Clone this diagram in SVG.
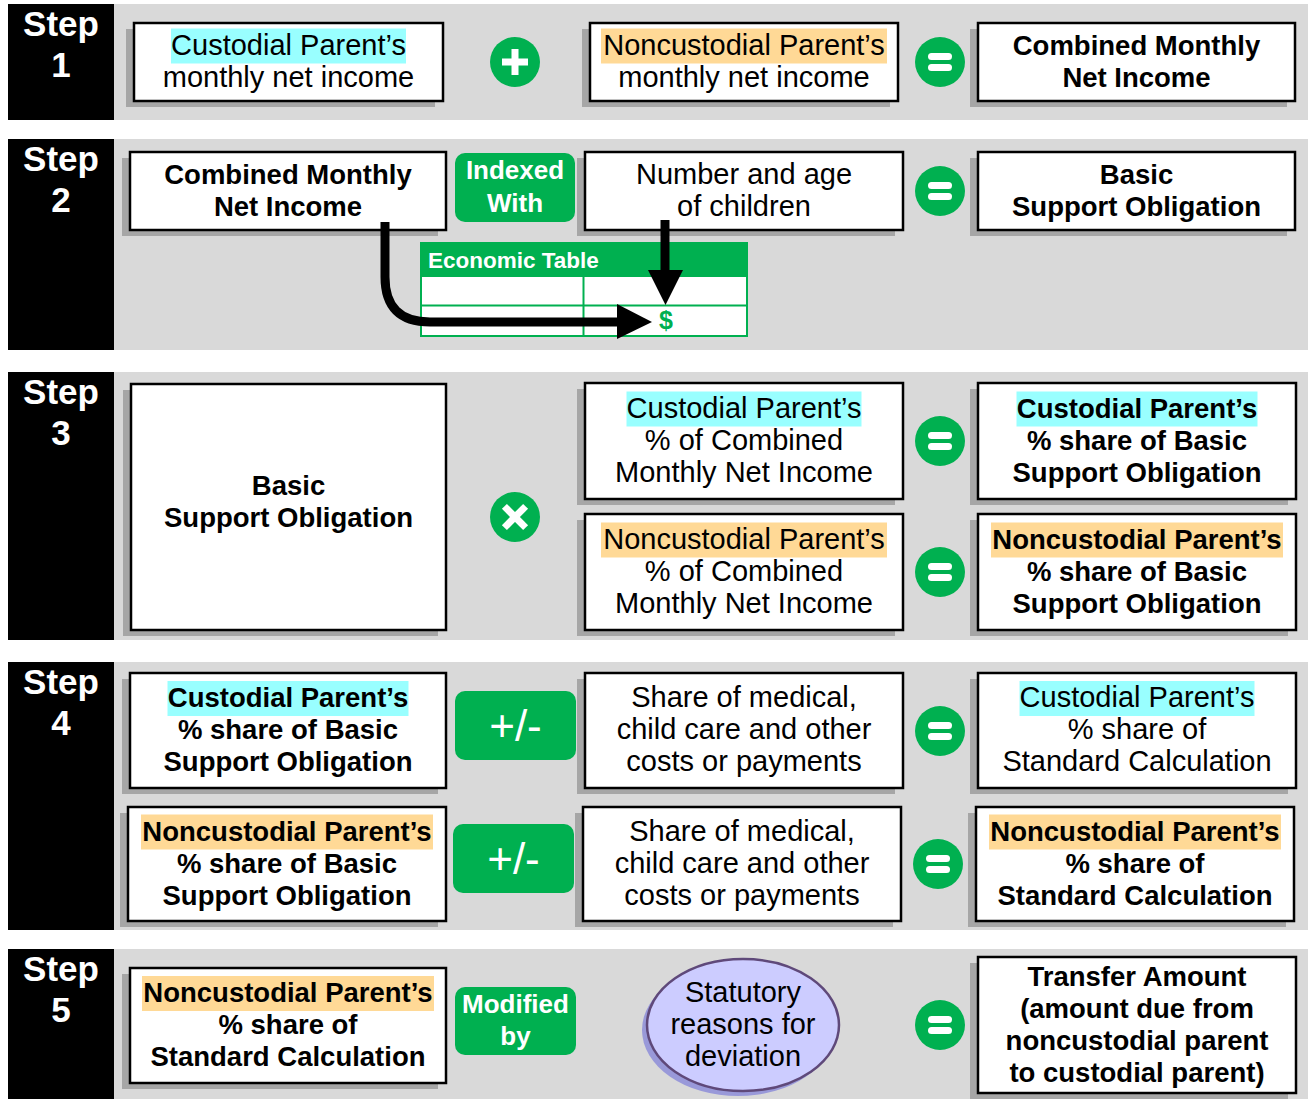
<svg xmlns="http://www.w3.org/2000/svg" xmlns:xlink="http://www.w3.org/1999/xlink" width="1308" height="1099" viewBox="0 0 1308 1099">
<style>
.band{fill:#d9d9d9}
.stepbg{fill:#000}
.steptxt{font-family:"Liberation Sans",Arial,sans-serif;font-weight:bold;font-size:35px;fill:#fff;text-anchor:middle}
.sh{fill:#a6a6a6}
.box{fill:#fff;stroke:#000;stroke-width:2.5}
.t{font-family:"Liberation Sans",Arial,sans-serif;font-size:29px;fill:#000;text-anchor:middle}
.b{font-weight:bold;font-size:27.5px}
.hc{fill:#99ffff}
.ho{fill:#ffd996}
.g{fill:#00b050}
.gt{font-family:"Liberation Sans",Arial,sans-serif;font-weight:bold;font-size:26px;fill:#fff;text-anchor:middle}
.pm{font-family:"Liberation Sans",Arial,sans-serif;font-size:44px;fill:#fff;text-anchor:middle}
.w{fill:#fff}
.arrow{fill:none;stroke:#000;stroke-width:9}
.head{fill:#000}
.tbl{fill:#fff;stroke:#00b050;stroke-width:2}
</style>
<defs>
<g id="eqsym"><circle r="25" class="g"/><rect x="-12" y="-9" width="24" height="7" rx="3.5" class="w"/><rect x="-12" y="2" width="24" height="7" rx="3.5" class="w"/></g>
<g id="plussym"><circle r="25" class="g"/><rect x="-13" y="-3.5" width="26" height="7" class="w"/><rect x="-3.5" y="-13" width="7" height="26" class="w"/></g>
<g id="timessym"><circle r="25" class="g"/><rect x="-15" y="-3.5" width="30" height="7" class="w" transform="rotate(45)"/><rect x="-15" y="-3.5" width="30" height="7" class="w" transform="rotate(-45)"/></g>
</defs>

<g id="bands">
<rect class="band" x="114" y="4" width="1194" height="116"/>
<rect class="stepbg" x="8" y="4" width="106" height="116"/>
<rect class="band" x="114" y="139" width="1194" height="211"/>
<rect class="stepbg" x="8" y="139" width="106" height="211"/>
<rect class="band" x="114" y="372" width="1194" height="268"/>
<rect class="stepbg" x="8" y="372" width="106" height="268"/>
<rect class="band" x="114" y="662" width="1194" height="268"/>
<rect class="stepbg" x="8" y="662" width="106" height="268"/>
<rect class="band" x="114" y="949" width="1194" height="150"/>
<rect class="stepbg" x="8" y="949" width="106" height="150"/>
</g>

<g id="step-labels">
<text class="steptxt" x="61" y="36">Step</text><text class="steptxt" x="61" y="77">1</text>
<text class="steptxt" x="61" y="171">Step</text><text class="steptxt" x="61" y="212">2</text>
<text class="steptxt" x="61" y="404">Step</text><text class="steptxt" x="61" y="445">3</text>
<text class="steptxt" x="61" y="694">Step</text><text class="steptxt" x="61" y="735">4</text>
<text class="steptxt" x="61" y="981">Step</text><text class="steptxt" x="61" y="1022">5</text>
</g>

<!-- Step 1 -->
<g id="s1-custodial">
<rect class="sh" x="126" y="29" width="309" height="78"/>
<rect class="box" x="134" y="23" width="309" height="78"/>
<rect class="hc" x="171" y="28.5" width="235" height="35"/>
<text class="t" x="288.5" y="54.5">Custodial Parent’s</text>
<text class="t" x="288.5" y="86.5">monthly net income</text>
</g>
<g id="s1-plus"><use xlink:href="#plussym" href="#plussym" x="515" y="62"/></g>
<g id="s1-noncustodial">
<rect class="sh" x="582" y="29" width="308" height="78"/>
<rect class="box" x="590" y="23" width="308" height="78"/>
<rect class="ho" x="601" y="28.5" width="286" height="35"/>
<text class="t" x="744" y="54.5">Noncustodial Parent’s</text>
<text class="t" x="744" y="86.5">monthly net income</text>
</g>
<g id="s1-equals"><use xlink:href="#eqsym" href="#eqsym" x="940" y="62"/></g>
<g id="s1-combined">
<rect class="sh" x="970" y="29" width="317" height="78"/>
<rect class="box" x="978" y="23" width="317" height="78"/>
<text class="t b" x="1136.5" y="54.5">Combined Monthly</text>
<text class="t b" x="1136.5" y="86.5">Net Income</text>
</g>

<!-- Step 2 -->
<g id="s2-combined">
<rect class="sh" x="122" y="158" width="316" height="78"/>
<rect class="box" x="130" y="152" width="316" height="78"/>
<text class="t b" x="288" y="183.5">Combined Monthly</text>
<text class="t b" x="288" y="215.5">Net Income</text>
</g>
<g id="s2-indexed">
<rect class="g" x="455" y="153" width="120" height="69" rx="10"/>
<text class="gt" x="515" y="179">Indexed</text>
<text class="gt" x="515" y="212">With</text>
</g>
<g id="s2-children">
<rect class="sh" x="577" y="158" width="318" height="78"/>
<rect class="box" x="585" y="152" width="318" height="78"/>
<text class="t" x="744" y="183.5">Number and age</text>
<text class="t" x="744" y="215.5">of children</text>
</g>
<g id="s2-equals"><use xlink:href="#eqsym" href="#eqsym" x="940" y="191"/></g>
<g id="s2-basic">
<rect class="sh" x="970" y="158" width="317" height="78"/>
<rect class="box" x="978" y="152" width="317" height="78"/>
<text class="t b" x="1136.5" y="183.5">Basic</text>
<text class="t b" x="1136.5" y="215.5">Support Obligation</text>
</g>
<g id="s2-table">
<rect class="g" x="420" y="242" width="328" height="34"/>
<text x="428" y="268" style="font-family:'Liberation Sans',Arial,sans-serif;font-weight:bold;font-size:22.5px;fill:#fff">Economic Table</text>
<rect class="tbl" x="421" y="276" width="326" height="60"/>
<line x1="421" y1="305.5" x2="747" y2="305.5" stroke="#00b050" stroke-width="2"/>
<line x1="583.5" y1="276" x2="583.5" y2="336" stroke="#00b050" stroke-width="2"/>
<text x="666" y="329" style="font-family:'Liberation Sans',Arial,sans-serif;font-weight:bold;font-size:25px;fill:#00b050;text-anchor:middle">$</text>
</g>

<!-- Step 3 -->
<g id="s3-basic">
<rect class="sh" x="123" y="390" width="315" height="246"/>
<rect class="box" x="131" y="384" width="315" height="246"/>
<text class="t b" x="288.5" y="494.5">Basic</text>
<text class="t b" x="288.5" y="526.5">Support Obligation</text>
</g>
<g id="s3-times"><use xlink:href="#timessym" href="#timessym" x="515" y="517"/></g>
<g id="s3-cp-pct">
<rect class="sh" x="577" y="389" width="318" height="116"/>
<rect class="box" x="585" y="383" width="318" height="116"/>
<rect class="hc" x="626.5" y="391.5" width="235" height="35"/>
<text class="t" x="744" y="417.5">Custodial Parent’s</text>
<text class="t" x="744" y="449.5">% of Combined</text>
<text class="t" x="744" y="481.5">Monthly Net Income</text>
</g>
<g id="s3-equals1"><use xlink:href="#eqsym" href="#eqsym" x="940" y="441"/></g>
<g id="s3-cp-share">
<rect class="sh" x="970" y="389" width="318" height="116"/>
<rect class="box" x="978" y="383" width="318" height="116"/>
<rect class="hc" x="1016.5" y="391.5" width="241" height="35"/>
<text class="t b" x="1137" y="417.5">Custodial Parent’s</text>
<text class="t b" x="1137" y="449.5">% share of Basic</text>
<text class="t b" x="1137" y="481.5">Support Obligation</text>
</g>
<g id="s3-ncp-pct">
<rect class="sh" x="577" y="520" width="318" height="116"/>
<rect class="box" x="585" y="514" width="318" height="116"/>
<rect class="ho" x="601" y="522.5" width="286" height="35"/>
<text class="t" x="744" y="548.5">Noncustodial Parent’s</text>
<text class="t" x="744" y="580.5">% of Combined</text>
<text class="t" x="744" y="612.5">Monthly Net Income</text>
</g>
<g id="s3-equals2"><use xlink:href="#eqsym" href="#eqsym" x="940" y="572"/></g>
<g id="s3-ncp-share">
<rect class="sh" x="970" y="520" width="318" height="116"/>
<rect class="box" x="978" y="514" width="318" height="116"/>
<rect class="ho" x="991" y="522.5" width="292" height="35"/>
<text class="t b" x="1137" y="548.5">Noncustodial Parent’s</text>
<text class="t b" x="1137" y="580.5">% share of Basic</text>
<text class="t b" x="1137" y="612.5">Support Obligation</text>
</g>

<!-- Step 4 -->
<g id="s4-cp-share">
<rect class="sh" x="122" y="679" width="316" height="115"/>
<rect class="box" x="130" y="673" width="316" height="115"/>
<rect class="hc" x="167.5" y="681" width="241" height="35"/>
<text class="t b" x="288" y="707">Custodial Parent’s</text>
<text class="t b" x="288" y="739">% share of Basic</text>
<text class="t b" x="288" y="771">Support Obligation</text>
</g>
<g id="s4-pm1">
<rect class="g" x="455" y="691" width="121" height="69" rx="10"/>
<text class="pm" x="515.5" y="741">+/-</text>
</g>
<g id="s4-costs1">
<rect class="sh" x="577" y="679" width="318" height="115"/>
<rect class="box" x="585" y="673" width="318" height="115"/>
<text class="t" x="744" y="707">Share of medical,</text>
<text class="t" x="744" y="739">child care and other</text>
<text class="t" x="744" y="771">costs or payments</text>
</g>
<g id="s4-equals1"><use xlink:href="#eqsym" href="#eqsym" x="940" y="731"/></g>
<g id="s4-cp-std">
<rect class="sh" x="970" y="679" width="318" height="115"/>
<rect class="box" x="978" y="673" width="318" height="115"/>
<rect class="hc" x="1019.5" y="681" width="235" height="35"/>
<text class="t" x="1137" y="707">Custodial Parent’s</text>
<text class="t" x="1137" y="739">% share of</text>
<text class="t" x="1137" y="771">Standard Calculation</text>
</g>
<g id="s4-ncp-share">
<rect class="sh" x="120" y="813" width="318" height="114"/>
<rect class="box" x="128" y="807" width="318" height="114"/>
<rect class="ho" x="141" y="814.5" width="292" height="35"/>
<text class="t b" x="287" y="840.5">Noncustodial Parent’s</text>
<text class="t b" x="287" y="872.5">% share of Basic</text>
<text class="t b" x="287" y="904.5">Support Obligation</text>
</g>
<g id="s4-pm2">
<rect class="g" x="453" y="824" width="121" height="69" rx="10"/>
<text class="pm" x="513.5" y="874">+/-</text>
</g>
<g id="s4-costs2">
<rect class="sh" x="575" y="813" width="318" height="114"/>
<rect class="box" x="583" y="807" width="318" height="114"/>
<text class="t" x="742" y="840.5">Share of medical,</text>
<text class="t" x="742" y="872.5">child care and other</text>
<text class="t" x="742" y="904.5">costs or payments</text>
</g>
<g id="s4-equals2"><use xlink:href="#eqsym" href="#eqsym" x="938" y="864"/></g>
<g id="s4-ncp-std">
<rect class="sh" x="968" y="813" width="318" height="114"/>
<rect class="box" x="976" y="807" width="318" height="114"/>
<rect class="ho" x="989" y="814.5" width="292" height="35"/>
<text class="t b" x="1135" y="840.5">Noncustodial Parent’s</text>
<text class="t b" x="1135" y="872.5">% share of</text>
<text class="t b" x="1135" y="904.5">Standard Calculation</text>
</g>

<!-- Step 5 -->
<g id="s5-ncp-std">
<rect class="sh" x="122" y="974" width="316" height="115"/>
<rect class="box" x="130" y="968" width="316" height="115"/>
<rect class="ho" x="142" y="976" width="292" height="35"/>
<text class="t b" x="288" y="1002">Noncustodial Parent’s</text>
<text class="t b" x="288" y="1034">% share of</text>
<text class="t b" x="288" y="1066">Standard Calculation</text>
</g>
<g id="s5-modified">
<rect class="g" x="455" y="987" width="121" height="68" rx="10"/>
<text class="gt" x="515.5" y="1012.5">Modified</text>
<text class="gt" x="515.5" y="1045">by</text>
</g>
<g id="s5-deviation">
<ellipse cx="738" cy="1030" rx="96" ry="66" fill="#9999d9"/>
<ellipse cx="743" cy="1025" rx="96" ry="66" fill="#ccccff" stroke="#5f497a" stroke-width="2.5"/>
<text class="t" x="743" y="1001.5">Statutory</text>
<text class="t" x="743" y="1033.5">reasons for</text>
<text class="t" x="743" y="1065.5">deviation</text>
</g>
<g id="s5-equals"><use xlink:href="#eqsym" href="#eqsym" x="940" y="1025"/></g>
<g id="s5-transfer">
<rect class="sh" x="970" y="963" width="318" height="136"/>
<rect class="box" x="978" y="957" width="318" height="136"/>
<text class="t b" x="1137" y="985.5">Transfer Amount</text>
<text class="t b" x="1137" y="1017.5">(amount due from</text>
<text class="t b" x="1137" y="1049.5">noncustodial parent</text>
<text class="t b" x="1137" y="1081.5">to custodial parent)</text>
</g>

<g id="connectors">
<path class="arrow" d="M385,222 L385,277 Q385,322 430,322 L620,322"/>
<polygon class="head" points="617,304 652,322 617,339"/>
<path class="arrow" d="M665,220 L665,272"/>
<polygon class="head" points="648,270 683,270 665.5,305"/>
</g>
</svg>
